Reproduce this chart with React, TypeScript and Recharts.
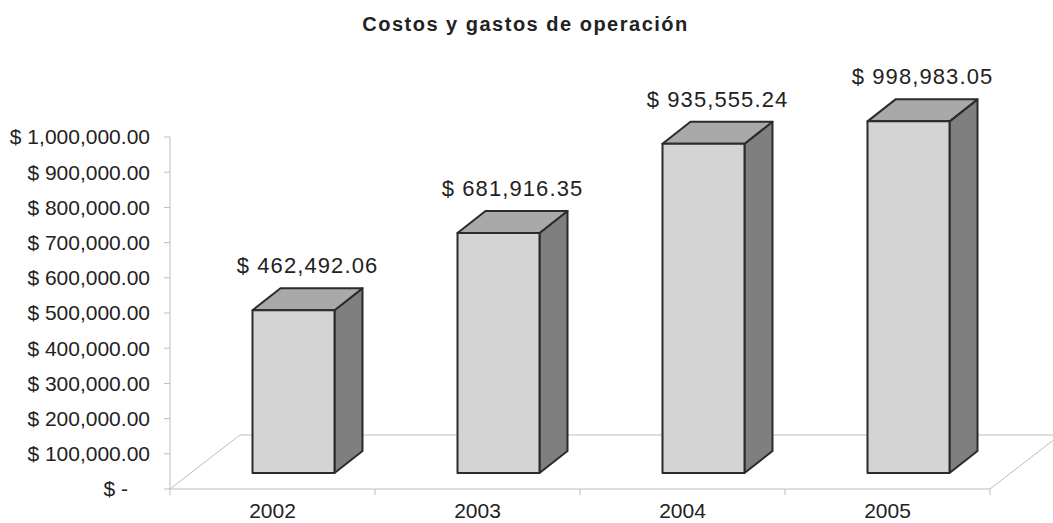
import * as R from 'recharts';
import { BarChart, Bar, XAxis, YAxis, LabelList } from 'recharts';

const categories = ['2002', '2003', '2004', '2005'];
const costs = [462492.06, 681916.35, 935555.24, 998983.05];
const yTicks = [0, 100000, 200000, 300000, 400000, 500000, 600000, 700000, 800000, 900000, 1000000];

const data = categories.map((year, i) => ({ year, value: costs[i] }));

const W = 1053;
const H = 523;
const margin = { top: 137, right: 63, bottom: 0, left: 0 };
const Y_WIDTH = 170;
const X_HEIGHT = 34;

// floor depth and the bar's offset into it (Excel 3D look)
const FLOOR_DX = 70;
const FLOOR_DY = -54;
const BAR_DX = 20.5;
const BAR_DY = -16;
const SIDE_DX = 28;
const SIDE_DY = -22;

const FONT = 'Arial, "Liberation Sans", sans-serif';
const TEXT = '#222';
const FLOOR = '#bdbdbd';

const money = (v: number) =>
  v === 0
    ? '$ -'
    : '$ ' + v.toLocaleString('en-US', { minimumFractionDigits: 2, maximumFractionDigits: 2 });

function Floor() {
  const hook = (R as any).usePlotArea;
  const pa = hook ? hook() : null;
  const x = pa?.x ?? Y_WIDTH;
  const y = pa?.y ?? margin.top;
  const w = pa?.width ?? W - Y_WIDTH - margin.right;
  const h = pa?.height ?? H - margin.top - X_HEIGHT;
  const by = y + h;
  const n = categories.length;
  return (
    <g stroke={FLOOR} strokeWidth={1} fill="none">
      <polyline
        points={`${x},${by} ${x + FLOOR_DX},${by + FLOOR_DY} ${x + w + FLOOR_DX},${by + FLOOR_DY} ${x + w},${by}`}
      />
      {Array.from({ length: n + 1 }, (_, i) => (
        <line key={i} x1={x + (i * w) / n} y1={by} x2={x + (i * w) / n} y2={by + 6} />
      ))}
    </g>
  );
}

const Box = (props: any) => {
  const { x, y, width, height } = props;
  if (height == null || height <= 0) return null;
  const x0 = x + BAR_DX;
  const x1 = x0 + width;
  const yt = y + BAR_DY;
  const yb = y + height + BAR_DY;
  return (
    <g stroke="#2b2b2b" strokeWidth={2} strokeLinejoin="round">
      <polygon
        points={`${x1},${yt} ${x1 + SIDE_DX},${yt + SIDE_DY} ${x1 + SIDE_DX},${yb + SIDE_DY} ${x1},${yb}`}
        fill="#7f7f7f"
      />
      <polygon
        points={`${x0},${yt} ${x0 + SIDE_DX},${yt + SIDE_DY} ${x1 + SIDE_DX},${yt + SIDE_DY} ${x1},${yt}`}
        fill="#a9a9a9"
      />
      <rect x={x0} y={yt} width={width} height={yb - yt} fill="#d4d4d4" />
    </g>
  );
};

const BarLabel = (props: any) => {
  const { x, y, width, value } = props;
  return (
    <text
      x={x + width / 2 + BAR_DX + SIDE_DX / 2}
      y={y + BAR_DY - 37}
      textAnchor="middle"
      fontSize={22}
      letterSpacing={1.1}
      fontFamily={FONT}
      fill={TEXT}
    >
      {money(value)}
    </text>
  );
};

const YTick = (props: any) => {
  const { x, y, payload } = props;
  const v = payload.value as number;
  return (
    <text
      x={v === 0 ? x - 22 : x}
      y={y}
      dy="0.355em"
      textAnchor="end"
      fontSize={21}
      fontFamily={FONT}
      fill={TEXT}
    >
      {money(v)}
    </text>
  );
};

export default function App() {
  return (
    <div style={{ position: 'absolute', left: 0, top: 0, width: W, height: H, background: '#fff' }}>
      <div
        style={{
          position: 'absolute',
          left: 0,
          top: 13,
          width: 1051,
          textAlign: 'center',
          fontFamily: FONT,
          fontWeight: 'bold',
          fontSize: 20,
          letterSpacing: 1.5,
          color: TEXT,
        }}
      >
        Costos y gastos de operación
      </div>
      <BarChart width={W} height={H} data={data} margin={margin}>
        <Floor />
        <XAxis
          dataKey="year"
          height={X_HEIGHT}
          axisLine={{ stroke: FLOOR }}
          tickLine={false}
          tickSize={0}
          tickMargin={14}
          tick={{ fontSize: 21, fontFamily: FONT, fill: TEXT }}
        />
        <YAxis
          width={Y_WIDTH}
          domain={[0, 1000000]}
          ticks={yTicks}
          interval={0}
          axisLine={{ stroke: FLOOR }}
          tickLine={{ stroke: FLOOR }}
          tickSize={6}
          tickMargin={14}
          tick={<YTick />}
        />
        <Bar dataKey="value" barSize={82} shape={<Box />} isAnimationActive={false}>
          <LabelList dataKey="value" content={<BarLabel />} />
        </Bar>
      </BarChart>
    </div>
  );
}
